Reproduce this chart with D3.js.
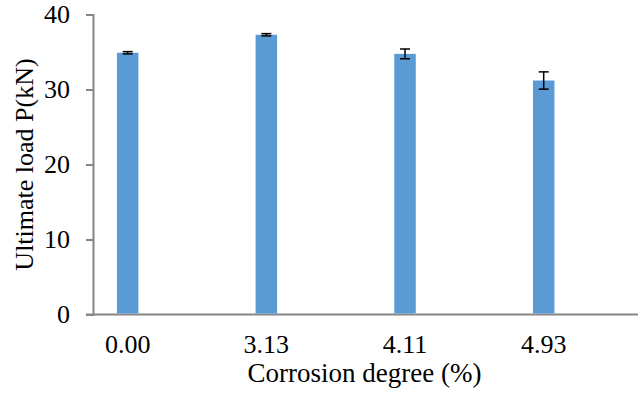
<!DOCTYPE html>
<html>
<head>
<meta charset="utf-8">
<script src="https://cdn.jsdelivr.net/npm/d3@7"></script>
<style>
  body { margin: 0; background: #fff; }
  .axis path, .axis line { stroke: #868686; stroke-width: 2; }
</style>
</head>
<body>
<svg id="canvas" width="638" height="393"></svg>
<script>
// chart values
const categories = ["0.00", "3.13", "4.11", "4.93"];
const loads = [34.9, 37.3, 34.75, 31.2];
const errors = [0.15, 0.15, 0.65, 1.15];
const yTicks = [0, 10, 20, 30, 40];

const FONT = "'Liberation Serif', 'Times New Roman', Times, serif";

const svg = d3.select("#canvas")
    .style("font-family", FONT);

const y = d3.scaleLinear().domain([0, 40]).range([314.5, 14.5]);
// category index -> pixel position
const x = d3.scaleLinear().domain([-0.25, 3.68]).range([93, 638]);
const barWidth = 21.5;

// y axis
svg.append("g")
    .attr("class", "axis")
    .attr("transform", "translate(93,0)")
    .call(d3.axisLeft(y).tickValues(yTicks).tickSize(7).tickPadding(16))
    .call(g => g.selectAll("text")
        .style("font-family", FONT)
        .style("font-size", "26px")
        .attr("fill", "#000"));

// x axis line
svg.append("line")
    .attr("x1", 86).attr("x2", 638)
    .attr("y1", y(0)).attr("y2", y(0))
    .attr("stroke", "#868686").attr("stroke-width", 2);

// bars
svg.selectAll(".bar")
    .data(loads)
    .enter()
    .append("rect")
    .attr("class", "bar")
    .attr("x", (d, i) => x(i) - barWidth / 2)
    .attr("y", d => y(d))
    .attr("width", barWidth)
    .attr("height", d => y(0) - y(d) - 1)
    .attr("fill", "#5b9bd5");

// error bars
const err = svg.selectAll(".err")
    .data(loads)
    .enter()
    .append("g")
    .attr("class", "err")
    .attr("stroke", "#000")
    .attr("stroke-width", 1.5);

err.append("line")
    .attr("x1", (d, i) => x(i)).attr("x2", (d, i) => x(i))
    .attr("y1", (d, i) => y(d + errors[i])).attr("y2", (d, i) => y(d - errors[i]));
err.append("line")
    .attr("x1", (d, i) => x(i) - 5).attr("x2", (d, i) => x(i) + 5)
    .attr("y1", (d, i) => y(d + errors[i])).attr("y2", (d, i) => y(d + errors[i]));
err.append("line")
    .attr("x1", (d, i) => x(i) - 5).attr("x2", (d, i) => x(i) + 5)
    .attr("y1", (d, i) => y(d - errors[i])).attr("y2", (d, i) => y(d - errors[i]));

// category labels
svg.selectAll(".cat")
    .data(categories)
    .enter()
    .append("text")
    .attr("class", "cat")
    .attr("x", (d, i) => x(i))
    .attr("y", 353)
    .attr("text-anchor", "middle")
    .style("font-size", "26px")
    .text(d => d);

// axis titles
svg.append("text")
    .attr("x", 364.5).attr("y", 382)
    .attr("text-anchor", "middle")
    .style("font-size", "27px")
    .text("Corrosion degree (%)");

svg.append("text")
    .attr("transform", "translate(33,164.5) rotate(-90)")
    .attr("text-anchor", "middle")
    .style("font-size", "26px")
    .text("Ultimate load P(kN)");
</script>
</body>
</html>
